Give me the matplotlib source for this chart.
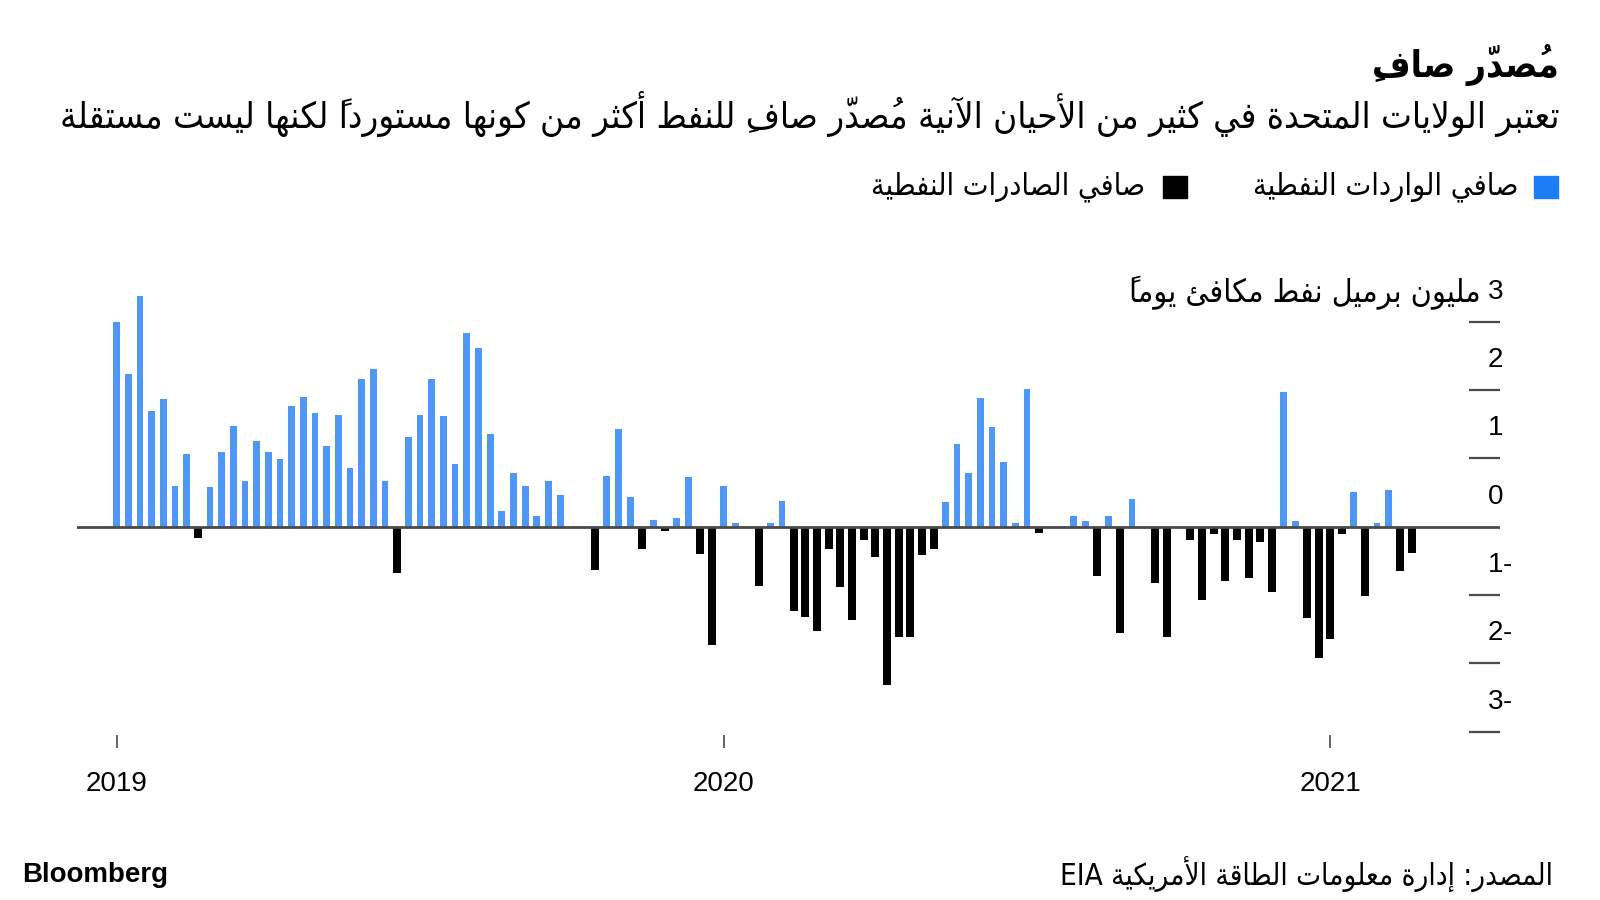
import matplotlib
matplotlib.use('Agg')
import matplotlib.pyplot as plt
from matplotlib.patches import Rectangle
import numpy as np

# weekly US net petroleum balance, million barrels/day (+ = net imports, - = net exports)
net_2019 = [3.00, 2.24, 3.38, 1.70, 1.87, 0.60, 1.07, -0.17, 0.585, 1.09, 1.48, 0.67, 1.26,
            1.09, 0.985, 1.76, 1.90, 1.66, 1.18, 1.63, 0.86, 2.16, 2.31, 0.67, -0.68, 1.31,
            1.63, 2.16, 1.62, 0.92, 2.84, 2.61, 1.35, 0.23, 0.79, 0.60, 0.16, 0.67, 0.47,
            0.0, 0.0, -0.64, 0.74, 1.43, 0.43, -0.32, 0.10, -0.06, 0.13, 0.72, -0.40, -1.73]
net_2020 = [0.60, 0.05, 0.0, -0.87, 0.05, 0.38, -1.23, -1.32, -1.53, -0.33, -0.89, -1.37, -0.20,
            -0.45, -2.32, -1.62, -1.62, -0.42, -0.32, 0.36, 1.21, 0.78, 1.89, 1.46, 0.94, 0.06,
            2.01, -0.10, 0.0, 0.0, 0.16, 0.09, -0.72, 0.16, -1.56, 0.41, 0.0, -0.83, -1.61,
            0.0, -0.19, -1.08, -0.11, -0.80, -0.19, -0.75, -0.22, -0.95, 1.97, 0.08, -1.33, -1.92]
net_2021 = [-1.64, -0.11, 0.51, -1.01, 0.06, 0.54, -0.65, -0.39]

year_labels = ['2019', '2020', '2021']
y_ticks = [-3, -2, -1, 0, 1, 2]

title = 'مُصدّر صافِ'
subtitle = 'تعتبر الولايات المتحدة في كثير من الأحيان الآنية مُصدّر صافِ للنفط أكثر من كونها مستورداً لكنها ليست مستقلة'
legend_imports = 'صافي الواردات النفطية'
legend_exports = 'صافي الصادرات النفطية'
unit_label = 'مليون برميل نفط مكافئ يوماً'
source = 'المصدر: إدارة معلومات الطاقة الأمريكية EIA'

BLUE = '#4F97F6'
BLUE_KEY = '#1C7DF7'
GREY = '#4a4a4a'


# matplotlib has no arabic shaping/bidi, so do a small one by hand
def _forms(start, n):
    return tuple(chr(start + i) for i in range(n))


FORMS = {'\u0621': _forms(0xFE80, 1)}
for base, start, n in [(0x0622, 0xFE81, 2), (0x0623, 0xFE83, 2), (0x0624, 0xFE85, 2),
                       (0x0625, 0xFE87, 2), (0x0626, 0xFE89, 4), (0x0627, 0xFE8D, 2),
                       (0x0628, 0xFE8F, 4), (0x0629, 0xFE93, 2), (0x062A, 0xFE95, 4),
                       (0x062B, 0xFE99, 4), (0x062C, 0xFE9D, 4), (0x062D, 0xFEA1, 4),
                       (0x062E, 0xFEA5, 4), (0x062F, 0xFEA9, 2), (0x0630, 0xFEAB, 2),
                       (0x0631, 0xFEAD, 2), (0x0632, 0xFEAF, 2), (0x0633, 0xFEB1, 4),
                       (0x0634, 0xFEB5, 4), (0x0635, 0xFEB9, 4), (0x0636, 0xFEBD, 4),
                       (0x0637, 0xFEC1, 4), (0x0638, 0xFEC5, 4), (0x0639, 0xFEC9, 4),
                       (0x063A, 0xFECD, 4), (0x0641, 0xFED1, 4), (0x0642, 0xFED5, 4),
                       (0x0643, 0xFED9, 4), (0x0644, 0xFEDD, 4), (0x0645, 0xFEE1, 4),
                       (0x0646, 0xFEE5, 4), (0x0647, 0xFEE9, 4), (0x0648, 0xFEED, 2),
                       (0x0649, 0xFEEF, 2), (0x064A, 0xFEF1, 4)]:
    FORMS[chr(base)] = _forms(start, n)

LAM_ALEF = {'\u0622': _forms(0xFEF5, 2), '\u0623': _forms(0xFEF7, 2),
            '\u0625': _forms(0xFEF9, 2), '\u0627': _forms(0xFEFB, 2)}


def is_mark(c):
    return 0x064B <= ord(c) <= 0x065F or c == '\u0670'


def jtype(b):
    if isinstance(b, tuple):
        return 'R'
    f = FORMS.get(b)
    if f is None or len(f) == 1:
        return 'U'
    return 'R' if len(f) == 2 else 'D'


def ar(text):
    clusters = []
    for c in text:
        if is_mark(c) and clusters:
            clusters[-1][1] += c
        else:
            clusters.append([c, ''])
    merged = []
    i = 0
    while i < len(clusters):
        b, m = clusters[i]
        if b == '\u0644' and i + 1 < len(clusters) and clusters[i + 1][0] in LAM_ALEF:
            merged.append([('la', clusters[i + 1][0]), m + clusters[i + 1][1]])
            i += 2
        else:
            merged.append([b, m])
            i += 1
    out = []
    for i, (b, m) in enumerate(merged):
        t = jtype(b)
        if t == 'U':
            out.append(m + b)
            continue
        prev_t = jtype(merged[i - 1][0]) if i > 0 else 'U'
        next_t = jtype(merged[i + 1][0]) if i + 1 < len(merged) else 'U'
        jp = prev_t == 'D'
        jn = t == 'D' and next_t in ('D', 'R')
        forms = LAM_ALEF[b[1]] if isinstance(b, tuple) else FORMS[b]
        if t == 'R':
            idx = 1 if jp else 0
        else:
            idx = (3 if jn else 1) if jp else (2 if jn else 0)
        # zero-width mark goes first so it lands over its letter
        out.append(m + forms[idx])
    # right-to-left, but keep latin/digit runs in reading order
    res, run = [], []
    for c in out[::-1]:
        if c.isascii() and c.isalnum():
            run.append(c)
        else:
            res.extend(run[::-1])
            run = []
            res.append(c)
    res.extend(run[::-1])
    return ''.join(res)


W, H = 1600, 900
fig = plt.figure(figsize=(W / 100, H / 100), dpi=100)
renderer = fig.canvas.get_renderer()
AR = dict(family=['DejaVu Sans'], fontstretch='condensed', color='black')
NUM = dict(family=['Liberation Sans', 'DejaVu Sans'], color='black')


def put(x, y, s, size, width=None, **kw):
    t = fig.text(x / W, 1 - y / H, s, fontsize=size, **kw)
    if width:
        w = t.get_window_extent(renderer).width
        t.set_fontsize(size * width / w)
    return t


# plot area: zero line at y=526.7px, 68.3px per unit, 11.67px per week
left, right, top, bottom = 76.5, 1500, 250, 735
ax = fig.add_axes([left / W, 1 - bottom / H, (right - left) / W, (bottom - top) / H])
ax.set_xlim(-3.44, 118.53)
ax.set_ylim(-3.05, 4.05)

net = np.array(net_2019 + net_2020 + net_2021)
weeks = np.arange(len(net))
ax.bar(weeks, np.where(net > 0, net, 0), width=0.58, color=BLUE, zorder=2)
ax.bar(weeks, np.where(net < 0, net, 0), width=0.68, color='black', zorder=2)
ax.axhline(0, color=GREY, lw=2, zorder=3)

for s in ax.spines.values():
    s.set_visible(False)
ax.yaxis.tick_right()
ax.set_yticks([-3, -2, -1, 1, 2, 3])
ax.tick_params(axis='y', direction='in', length=22, width=1.6, color=GREY,
               labelright=False, labelleft=False)
ax.set_xticks([0, 52, 104])
ax.set_xticklabels(year_labels, fontsize=20, family=NUM['family'])
ax.tick_params(axis='x', direction='out', length=9, width=1.2, color=GREY, pad=17)

# y labels sit above their tick, minus sign trails the digit (RTL)
ytr = ax.get_yaxis_transform()
lx = (1503 - left) / (right - left)
for v in y_ticks + [3]:
    ax.text(lx, v + 0.44, str(abs(v)), transform=ytr, ha='right', va='center',
            fontsize=20, clip_on=False, **NUM)
    if v < 0:
        ax.text(lx, v + 0.44, '-', transform=ytr, ha='left', va='center',
                fontsize=20, clip_on=False, **NUM)
put(1481, 293, ar(unit_label), 20, width=351, ha='right', va='center', **AR)

# header
put(1559, 65, ar(title), 26, width=187, ha='right', va='center', weight='bold', **AR)
put(1559, 114, ar(subtitle), 20, width=1496, ha='right', va='center', **AR)

# legend
fig.patches.append(Rectangle((1534 / W, 1 - 198 / H), 24 / W, 22 / H, color=BLUE_KEY,
                             transform=fig.transFigure))
put(1518, 187, ar(legend_imports), 18, width=265, ha='right', va='center', **AR)
fig.patches.append(Rectangle((1163 / W, 1 - 198 / H), 24 / W, 22 / H, color='black',
                             transform=fig.transFigure))
put(1145, 187, ar(legend_exports), 18, width=273, ha='right', va='center', **AR)

# footer
put(1553, 875, ar(source), 18, width=492, ha='right', va='center', **AR)
put(22.5, 875, 'Bloomberg', 18, width=146, ha='left', va='center', weight='bold', **NUM)

fig.savefig('out.png', dpi=100)
